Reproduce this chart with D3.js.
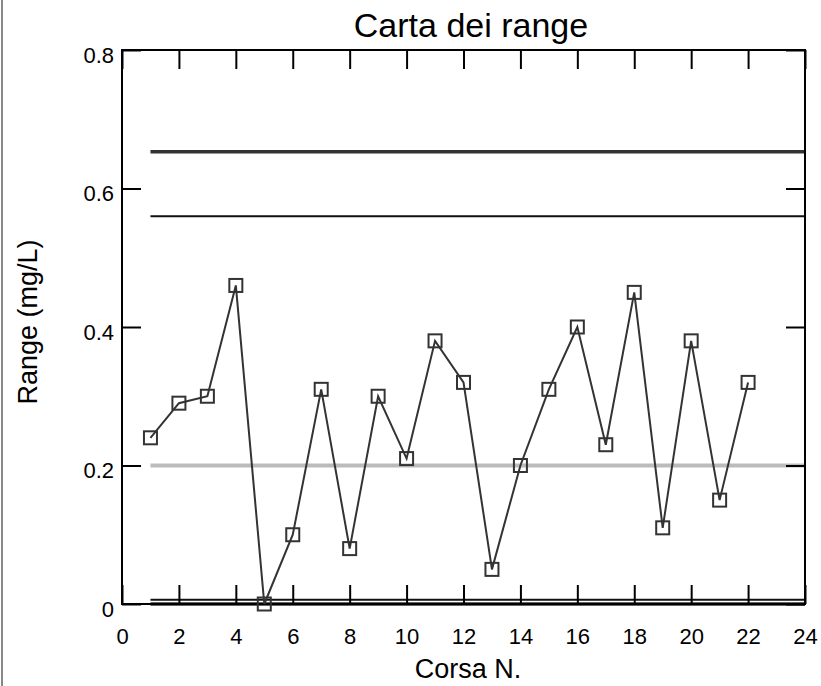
<!DOCTYPE html>
<html>
<head>
<meta charset="utf-8">
<script src="https://cdn.jsdelivr.net/npm/d3@7"></script>
<style>
  body { margin: 0; background: #fff; }
  text { font-family: "Liberation Sans", Arial, sans-serif; }
</style>
</head>
<body>
<div id="chart"></div>
<script>
// data
var runs = [1, 2, 3, 4, 5, 6, 7, 8, 9, 10, 11, 12, 13, 14, 15, 16, 17, 18, 19, 20, 21, 22];
var ranges = [0.24, 0.29, 0.30, 0.46, 0.0, 0.10, 0.31, 0.08, 0.30, 0.21, 0.38, 0.32,
              0.05, 0.20, 0.31, 0.40, 0.23, 0.45, 0.11, 0.38, 0.15, 0.32];
var controlLimits = [0.653, 0];   // thick lines
var warningLimits = [0.56, 0.006]; // thin lines
var meanRange = 0.2;
var xTicks = [0, 2, 4, 6, 8, 10, 12, 14, 16, 18, 20, 22, 24];
var yTicks = [0, 0.2, 0.4, 0.6, 0.8];

var width = 821, height = 686;
var margin = { top: 50, left: 122, right: 16, bottom: 82 };
var innerW = width - margin.left - margin.right,
    innerH = height - margin.top - margin.bottom;

var svg = d3.select("#chart").append("svg")
  .attr("width", width)
  .attr("height", height);

// gray left border line
svg.append("line")
  .attr("x1", 2).attr("x2", 2)
  .attr("y1", 0).attr("y2", height)
  .style("stroke", "#888")
  .style("stroke-width", 2);

var g = svg.append("g")
  .attr("transform", "translate(" + margin.left + "," + margin.top + ")");

var x = d3.scaleLinear().domain([0, 24]).range([0, innerW]);
var y = d3.scaleLinear().domain([0, 0.8]).range([innerH, 0]);

// reference lines
var x0 = x(runs[0]), x1 = x(24);
g.append("line")
  .attr("x1", x0).attr("x2", x1)
  .attr("y1", y(meanRange)).attr("y2", y(meanRange))
  .style("stroke", "#bbb").style("stroke-width", 4);

g.selectAll(".warn").data(warningLimits).enter().append("line")
  .attr("class", "warn")
  .attr("x1", x0).attr("x2", x1)
  .attr("y1", function(d) { return y(d); })
  .attr("y2", function(d) { return y(d); })
  .style("stroke", "#111").style("stroke-width", 2);

g.selectAll(".ctrl").data(controlLimits).enter().append("line")
  .attr("class", "ctrl")
  .attr("x1", x0).attr("x2", x1)
  .attr("y1", function(d) { return y(d); })
  .attr("y2", function(d) { return y(d); })
  .style("stroke", "#333").style("stroke-width", 3.5);

// axes, ticks inside on all sides
var tickLen = 19;
g.append("g")
  .attr("transform", "translate(0," + innerH + ")")
  .call(d3.axisBottom(x).tickValues(xTicks).tickSizeInner(-tickLen).tickSizeOuter(0).tickPadding(24))
  .call(function(a) { a.select(".domain").remove(); });
g.append("g")
  .call(d3.axisTop(x).tickValues(xTicks).tickSizeInner(-tickLen).tickSizeOuter(0).tickFormat(""))
  .call(function(a) { a.select(".domain").remove(); });
g.append("g")
  .attr("class", "yaxis")
  .call(d3.axisLeft(y).tickValues(yTicks).tickSizeInner(-tickLen).tickSizeOuter(0)
    .tickPadding(8).tickFormat(function(d) { return d === 0 ? "0" : d3.format(".1f")(d); }))
  .call(function(a) { a.select(".domain").remove(); });
g.append("g")
  .attr("transform", "translate(" + innerW + ",0)")
  .call(d3.axisRight(y).tickValues(yTicks).tickSizeInner(-tickLen).tickSizeOuter(0).tickFormat(""))
  .call(function(a) { a.select(".domain").remove(); });

g.selectAll(".tick line").style("stroke", "#000").style("stroke-width", 2);
g.selectAll(".tick text")
  .style("font-size", "22px")
  .style("fill", "#000");
g.selectAll(".yaxis .tick text").attr("dy", "0.56em");

// frame
g.append("rect")
  .attr("width", innerW)
  .attr("height", innerH)
  .style("fill", "none")
  .style("stroke", "#000")
  .style("stroke-width", 2);

// series
var line = d3.line()
  .x(function(d, i) { return x(runs[i]); })
  .y(function(d) { return y(d); });

g.append("path")
  .datum(ranges)
  .attr("d", line)
  .style("fill", "none")
  .style("stroke", "#333")
  .style("stroke-width", 2);

var s = 13;
g.selectAll(".pt").data(ranges).enter().append("rect")
  .attr("class", "pt")
  .attr("x", function(d, i) { return x(runs[i]) - s / 2; })
  .attr("y", function(d) { return y(d) - s / 2; })
  .attr("width", s)
  .attr("height", s)
  .style("fill", "none")
  .style("stroke", "#333")
  .style("stroke-width", 2);

// titles
svg.append("text")
  .attr("x", 471)
  .attr("y", 37)
  .attr("text-anchor", "middle")
  .style("font-size", "34px")
  .text("Carta dei range");

svg.append("text")
  .attr("x", 468)
  .attr("y", 678)
  .attr("text-anchor", "middle")
  .style("font-size", "27px")
  .text("Corsa N.");

svg.append("text")
  .attr("text-anchor", "middle")
  .attr("transform", "translate(37,322)rotate(-90)")
  .style("font-size", "27px")
  .text("Range (mg/L)");
</script>
</body>
</html>
